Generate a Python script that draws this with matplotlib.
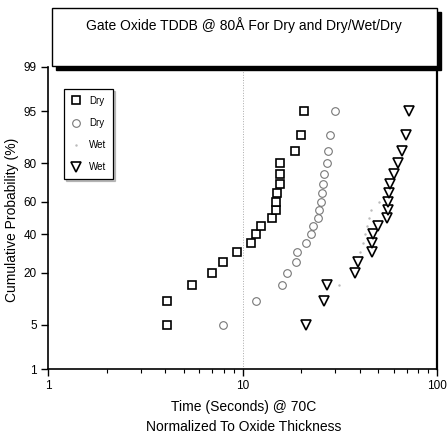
import numpy as np
import matplotlib
matplotlib.use("Agg")
import matplotlib.pyplot as plt
from matplotlib.patches import Rectangle
from statistics import NormalDist

plt.rcParams['font.family'] = ['Liberation Sans', 'DejaVu Sans']

# cumulative probability (%) ranks shared by the full series
ranks = [5, 10, 15, 20, 25, 30, 35, 40, 45, 50, 55, 60, 65, 70, 75, 80, 85, 90, 95]

# time to breakdown (s)
dry1_time = [4.1, 4.1, 5.5, 7.0, 7.9, 9.4, 11.0, 11.7, 12.4, 14.2,
             14.8, 14.9, 15.0, 15.5, 15.5, 15.6, 18.7, 20.1, 20.8]
dry2_time = [7.9, 11.8, 16.0, 17.0, 18.9, 19.1, 21.3, 22.6, 23.1, 24.3,
             24.8, 25.4, 25.7, 26.0, 26.3, 27.3, 27.6, 28.3, 30.0]
wet2_time = [21.3, 26.3, 27.3, 38.0, 39.3, 46.4, 46.4, 46.6, 49.8, 55.4,
             56.1, 56.1, 56.8, 57.4, 60.2, 63.1, 66.2, 69.4, 71.9]
# faint dot series, only partly visible in the scan
wet1_prob = [15, 30, 35, 40, 45, 50, 55, 60]
wet1_time = [31.4, 40.3, 41.8, 42.7, 43.8, 44.8, 45.9, 50.4]

y_ticks = [1, 5, 20, 40, 60, 80, 95, 99]
x_ticks = [1, 10, 100]

nd = NormalDist()


def probit(p):
    p = np.asarray(p, dtype=float)
    flat = np.clip(p.ravel(), 1e-6, 100 - 1e-6)
    return np.array([nd.inv_cdf(v / 100.0) for v in flat]).reshape(p.shape)


def inv_probit(z):
    z = np.asarray(z, dtype=float)
    flat = np.clip(z.ravel(), -30, 30)
    return np.array([nd.cdf(v) * 100.0 for v in flat]).reshape(z.shape)


fig = plt.figure(figsize=(4.48, 4.36), dpi=100)
W, H = 448.0, 436.0
ax = fig.add_axes([48 / W, 1 - 369 / H, (437 - 48) / W, (369 - 67) / H])

ax.set_xscale('log')
ax.set_yscale('function', functions=(probit, inv_probit))
ax.set_xlim(1, 100)
ax.set_ylim(1, 99)

ax.axvline(10, ls=':', color='#aaaaaa', lw=0.7, zorder=0)

ax.plot(dry1_time, ranks, ls='none', marker='s', ms=5.5, mfc='white',
        mec='black', mew=1.2, label='Dry')
ax.plot(dry2_time, ranks, ls='none', marker='o', ms=5.5, mfc='white',
        mec='#777777', mew=0.8, label='Dry')
ax.plot(wet1_time, wet1_prob, ls='none', marker='.', ms=1.5,
        color='#bbbbbb', label='Wet')
ax.plot(wet2_time, ranks, ls='none', marker='v', ms=6.5, mfc='white',
        mec='black', mew=1.2, label='Wet')

ax.set_yticks(y_ticks)
ax.set_yticklabels([str(t) for t in y_ticks])
ax.yaxis.set_minor_locator(matplotlib.ticker.NullLocator())
ax.set_xticks(x_ticks)
ax.set_xticklabels([str(t) for t in x_ticks])
ax.tick_params(axis='both', which='major', direction='out', length=5,
               width=1, labelsize=8.5, pad=3)
ax.tick_params(axis='x', which='minor', direction='out', length=3, width=0.8)
ax.tick_params(axis='y', right=False)

for side in ['left', 'bottom', 'right']:
    ax.spines[side].set_linewidth(1.2)
ax.spines['right'].set_linewidth(1.6)
ax.spines['top'].set_visible(False)

leg = ax.legend(loc='upper left', bbox_to_anchor=(16 / 389, (369 - 89) / 302),
                fontsize=7, frameon=True, fancybox=False, edgecolor='black',
                labelspacing=1.25, handlelength=1.0, handletextpad=0.9,
                borderpad=0.7, borderaxespad=0,
                shadow={'ox': 1.5, 'oy': -1.5, 'color': '#888888'})
leg.get_frame().set_linewidth(0.9)

# title box with drop shadow
bx0, by0, bx1, by1 = 52, 8, 437, 66
fig.patches.append(Rectangle(((bx0 + 4) / W, 1 - (by1 + 4) / H), (bx1 - bx0) / W,
                             (by1 - by0) / H, transform=fig.transFigure,
                             facecolor='black', edgecolor='black', zorder=5))
fig.patches.append(Rectangle((bx0 / W, 1 - by1 / H), (bx1 - bx0) / W,
                             (by1 - by0) / H, transform=fig.transFigure,
                             facecolor='white', edgecolor='black', lw=1.0,
                             zorder=6))
fig.text(244 / W, 1 - 25 / H, 'Gate Oxide TDDB @ 80Å For Dry and Dry/Wet/Dry',
         ha='center', va='center', fontsize=10, zorder=7)

fig.text(12 / W, 1 - 220 / H, 'Cumulative Probability (%)', rotation=90,
         ha='center', va='center', fontsize=10)
fig.text(244 / W, 1 - 407 / H, 'Time (Seconds) @ 70C', ha='center',
         va='center', fontsize=10)
fig.text(244 / W, 1 - 427 / H, 'Normalized To Oxide Thickness', ha='center',
         va='center', fontsize=10)

fig.savefig('out.png', dpi=100)
